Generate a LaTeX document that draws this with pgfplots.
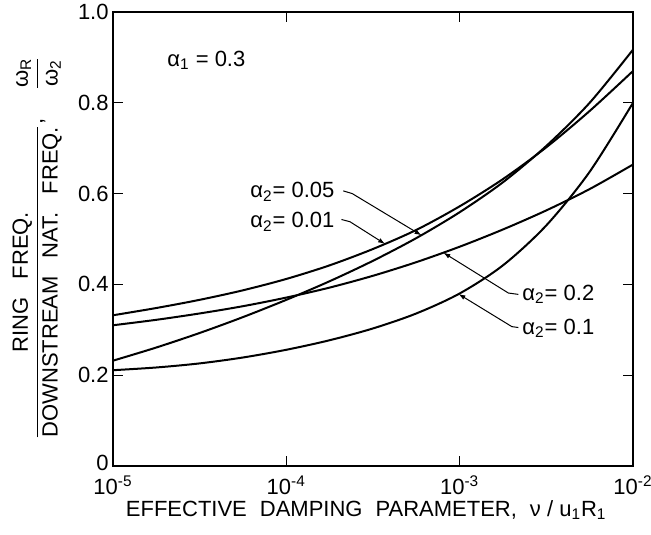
\documentclass[border=0pt]{standalone}
\usepackage{fontspec}
\setmainfont{Liberation Sans}
\usepackage{amsmath}
\usepackage{pgfplots}
\usepackage{pgfplotstable}
\pgfplotsset{compat=1.18}
\usetikzlibrary{arrows.meta}

% x ; alpha2=0.01 ; alpha2=0.05 ; alpha2=0.2 ; alpha2=0.1
\pgfplotstableread{
x        a001   a005   a02    a01
1e-5     0.332  0.232  0.310  0.211
1.778e-5 0.348  0.261  0.322  0.217
3.162e-5 0.366  0.293  0.336  0.226
5.623e-5 0.387  0.328  0.352  0.239
1e-4     0.412  0.366  0.371  0.256
1.778e-4 0.442  0.407  0.393  0.277
3.162e-4 0.478  0.452  0.419  0.303
5.623e-4 0.520  0.502  0.449  0.336
1e-3     0.572  0.559  0.483  0.380
1.778e-3 0.632  0.625  0.521  0.442
3.162e-3 0.702  0.705  0.563  0.530
5.623e-3 0.782  0.800  0.610  0.648
1e-2     0.870  0.917  0.664  0.800
}\curves

\begin{document}
\fontsize{11}{13}\selectfont
\begin{tikzpicture}
\begin{axis}[
  scale only axis, width=260pt, height=227pt,
  xmode=log, xmin=1e-5, xmax=1e-2, ymin=0, ymax=1,
  xtick={1e-5,1e-4,1e-3,1e-2},
  xticklabels={10\textsuperscript{-5},10\textsuperscript{-4},10\textsuperscript{-3},10\textsuperscript{-2}},
  xminorticks=false,
  ytick={0,0.2,0.4,0.6,0.8,1},
  yticklabels={\raisebox{3.5pt}{0},0.2,0.4,0.6,0.8,1.0},
  yticklabel style={inner xsep=2pt},
  xticklabel style={yshift=-1pt},
  tick align=inside, major tick length=5pt,
  tick style={black, line width=0.7pt},
  axis line style={black, line width=0.8pt},
  every axis x label/.style={at={(axis description cs:0.487,-0.097)}, anchor=center},
  every axis y label/.style={at={(axis description cs:-0.146,0.48)}, rotate=90, anchor=center},
  xlabel={EFFECTIVE\hspace{6.5pt}DAMPING\hspace{6.5pt}PARAMETER,\hspace{6.5pt}ν / u\textsubscript{1}R\textsubscript{1}},
  ylabel={$\dfrac{\text{RING\hspace{9pt}FREQ.}}{\text{DOWNSTREAM\hspace{9pt}NAT.\hspace{9pt}FREQ.}}\text{,}\hspace{14pt}\dfrac{\text{ω\textsubscript{R}}}{\text{ω\textsubscript{2}}}$},
]
\addplot[black, line width=1pt, smooth] table[x=x, y=a001] {\curves};
\addplot[black, line width=1pt, smooth] table[x=x, y=a005] {\curves};
\addplot[black, line width=1pt, smooth] table[x=x, y=a02] {\curves};
\addplot[black, line width=1pt, smooth] table[x=x, y=a01] {\curves};

\node[anchor=west, inner sep=0] at (axis cs:2.05e-5,0.893) {α\textsubscript{1} = 0.3};
\node[anchor=west, inner sep=0] at (axis cs:6.17e-5,0.604) {α\textsubscript{2}= 0.05};
\node[anchor=west, inner sep=0] at (axis cs:6.17e-5,0.538) {α\textsubscript{2}= 0.01};
\node[anchor=west, inner sep=0] at (axis cs:2.29e-3,0.378) {α\textsubscript{2}= 0.2};
\node[anchor=west, inner sep=0] at (axis cs:2.29e-3,0.303) {α\textsubscript{2}= 0.1};

\draw[line width=0.5pt, -{Latex[length=3.5pt,width=2.4pt]}] (axis cs:2.13e-4,0.606) -- (axis cs:2.4e-4,0.600) -- (axis cs:6.03e-4,0.508);
\draw[line width=0.5pt, -{Latex[length=3.5pt,width=2.4pt]}] (axis cs:2.08e-4,0.543) -- (axis cs:2.33e-4,0.538) -- (axis cs:3.715e-4,0.489);
\draw[line width=0.5pt, -{Latex[length=3.5pt,width=2.4pt]}] (axis cs:2.18e-3,0.378) -- (axis cs:1.91e-3,0.381) -- (axis cs:8.05e-4,0.470);
\draw[line width=0.5pt, -{Latex[length=3.5pt,width=2.4pt]}] (axis cs:2.18e-3,0.305) -- (axis cs:2.0e-3,0.307) -- (axis cs:9.84e-4,0.379);
\end{axis}
\pgfresetboundingbox
\path ([shift={(-56.5pt,-34pt)}]current axis.south west) rectangle ([shift={(9pt,6pt)}]current axis.north east);
\end{tikzpicture}
\end{document}
